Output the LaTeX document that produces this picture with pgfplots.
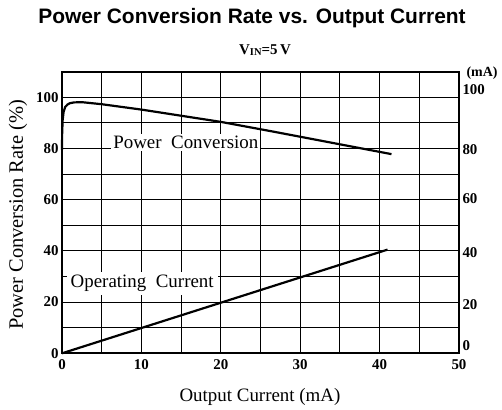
\documentclass[border=0pt]{standalone}
\usepackage{pgfplots}
\pgfplotsset{compat=1.18}
\usepackage{fontspec}
\setmainfont{Liberation Serif}
\newfontfamily\titlefont{Liberation Sans}
\begin{document}
\begin{tikzpicture}
\useasboundingbox (-62bp,-56.7bp) rectangle (440bp,353.3bp);
\begin{axis}[
  at={(0,0)}, anchor=origin,
  scale only axis, width=397bp, height=281.6bp,
  xmin=0, xmax=50, ymin=0, ymax=110,
  xtick={0,10,...,50}, minor xtick={5,15,...,45},
  ytick={0,20,...,100}, minor ytick={10,30,...,90},
  grid=both,
  major grid style={black, line width=1.1pt},
  minor grid style={black, line width=1.1pt},
  axis line style={black, line width=1.8pt},
  tick style={draw=none},
  ticklabel style={font=\fontsize{15}{15}\selectfont\bfseries},
  xticklabel style={yshift=-3pt},
  /pgf/number format/assume math mode=true,
  clip=false,
]
\node[fill=white, inner sep=2pt, font=\fontsize{19}{19}\selectfont] at (axis cs:15.6,82.3) {Power\ \ Conversion};
\node[fill=white, inner xsep=4pt, inner ysep=3pt, font=\fontsize{19}{19}\selectfont] at (axis cs:10.1,27.3) {Operating\ \ Current};
\addplot[black, line width=2.2pt, line join=round] coordinates {
 (0,79.5) (0.02,86) (0.08,91) (0.2,94.3) (0.4,96.2) (0.7,97.2) (1.0,97.7) (1.5,98) (2.5,98.1)
 (5,97.3) (10,95.2) (15,92.8) (20,90.4) (26.6,86.6) (41.5,77.8)};
\addplot[black, line width=2.2pt] coordinates {(0,0) (41,40.5)};
\end{axis}
\begin{axis}[
  at={(0,0)}, anchor=origin,
  scale only axis, width=397bp, height=281.6bp,
  xmin=0, xmax=50, ymin=0, ymax=110,
  axis x line=none, axis y line*=right,
  ytick={3,19,39.2,60.5,79.7,103.2},
  yticklabels={0,20,40,60,80,100},
  tick style={draw=none},
  axis line style={black, line width=1.8pt},
  ticklabel style={font=\fontsize{15}{15}\selectfont\bfseries},
]
\addplot[draw=none] coordinates {(0,0)};
\end{axis}
\node[font=\fontsize{21}{21}\selectfont\titlefont\bfseries] at (190bp,335.3bp) {Power Conversion Rate vs. Output Current};
\node[font=\fontsize{15}{15}\selectfont\bfseries] at (203bp,303.3bp) {V\raisebox{-0.5pt}{\fontsize{10.5}{10.5}\selectfont IN}=5\,V};
\node[font=\fontsize{14}{14}\selectfont\bfseries, inner sep=0pt] at (420bp,280.5bp) {(mA)};
\node[font=\fontsize{19}{19}\selectfont] at (198bp,-43.7bp) {Output Current (mA)};
\node[font=\fontsize{20.5}{20.5}\selectfont, rotate=90] at (-44bp,138.3bp) {Power Conversion Rate (\%)};
\end{tikzpicture}
\end{document}
